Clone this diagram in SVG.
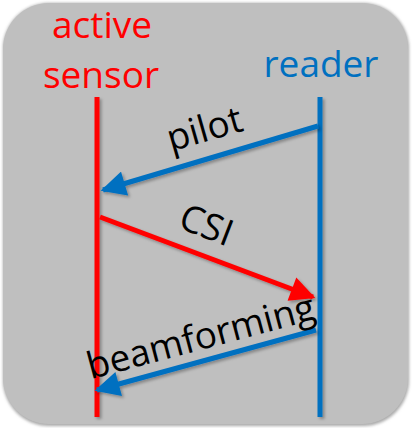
<svg xmlns="http://www.w3.org/2000/svg" width="413" height="428" viewBox="0 0 413 428">
<style>
.t{font-family:"Open Sans","Liberation Sans",sans-serif;font-size:37px}
.red{fill:#ff0000}.blue{fill:#0070c0}.blk{fill:#000}
.lr{stroke:#ff0000;stroke-width:5;fill:none}
.lb{stroke:#0070c0;stroke-width:5;fill:none}
</style>
<defs>
<filter id="sh" filterUnits="userSpaceOnUse" x="0" y="0" width="413" height="428">
<feDropShadow dx="2" dy="2" stdDeviation="1.5" flood-color="#000" flood-opacity="0.3"/>
</filter>
<filter id="bsh" filterUnits="userSpaceOnUse" x="0" y="0" width="413" height="428">
<feGaussianBlur stdDeviation="1.5"/>
</filter>
<marker id="ab" viewBox="0 0 10 10" refX="9" refY="5" markerWidth="5.2" markerHeight="5" markerUnits="strokeWidth" orient="auto">
<path d="M0,0 L10,5 L0,10 z" fill="#0070c0"/>
</marker>
<marker id="ar" viewBox="0 0 10 10" refX="9" refY="5" markerWidth="5.2" markerHeight="5" markerUnits="strokeWidth" orient="auto">
<path d="M0,0 L10,5 L0,10 z" fill="#ff0000"/>
</marker>
</defs>
<rect x="3" y="3" width="406" height="423" rx="46" ry="46" fill="#a8a8a8" filter="url(#bsh)"/>
<rect x="3" y="3" width="405" height="421" rx="46" ry="46" fill="#bfbfbf"/>
<g id="sensor">
<text class="t red" x="102" y="38" text-anchor="middle">active</text>
<text class="t red" x="101" y="88" text-anchor="middle">sensor</text>
<line class="lr" x1="97" y1="97" x2="97" y2="417" filter="url(#sh)"/>
</g>
<g id="reader">
<text class="t blue" x="321" y="77" text-anchor="middle">reader</text>
<line class="lb" x1="320" y1="97" x2="320" y2="417" filter="url(#sh)"/>
</g>
<g id="connectors" filter="url(#sh)">
<line class="lb" x1="318" y1="126" x2="103" y2="190" marker-end="url(#ab)"/>
<line class="lr" x1="100" y1="217" x2="313" y2="297" marker-end="url(#ar)"/>
<line class="lb" x1="316" y1="330" x2="97" y2="390" marker-end="url(#ab)"/>
</g>
<g id="labels">
<text class="t blk" x="208" y="141" text-anchor="middle" transform="rotate(-16 208 141)">pilot</text>
<text class="t blk" x="202" y="237" text-anchor="middle" transform="rotate(21 202 237)">CSI</text>
<text class="t blk" x="204" y="349" text-anchor="middle" transform="rotate(-15 204 349)">beamforming</text>
</g>
</svg>
